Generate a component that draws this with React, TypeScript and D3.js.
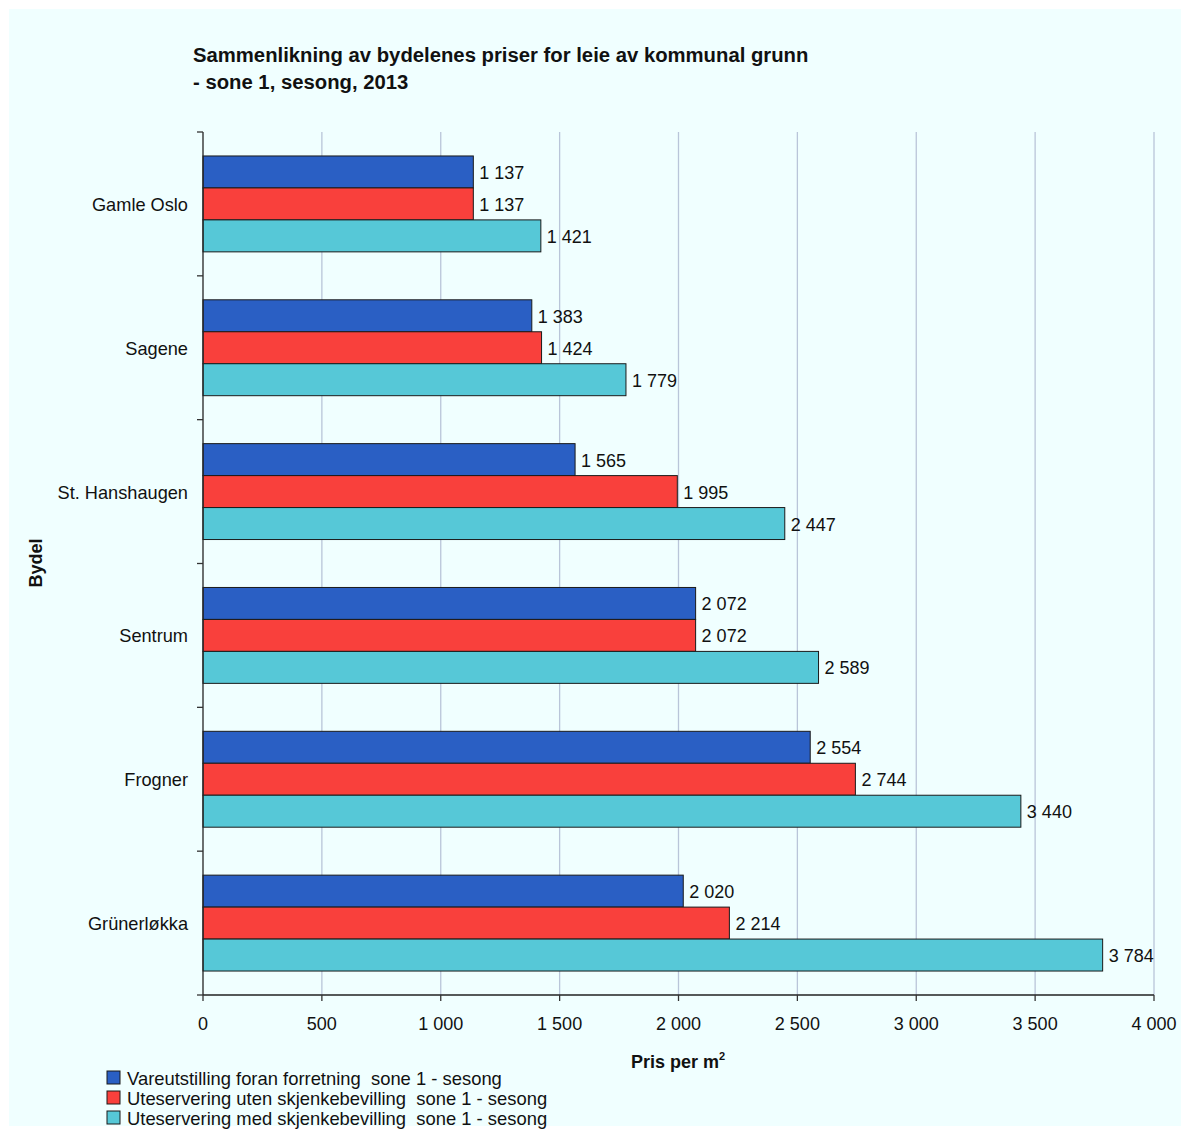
import React from "react";
import * as d3 from "d3";

const categories = ["Gamle Oslo", "Sagene", "St. Hanshaugen", "Sentrum", "Frogner", "Grünerløkka"];
const seriesNames = [
  "Vareutstilling foran forretning  sone 1 - sesong",
  "Uteservering uten skjenkebevilling  sone 1 - sesong",
  "Uteservering med skjenkebevilling  sone 1 - sesong",
];
const vareutstilling = [1137, 1383, 1565, 2072, 2554, 2020];
const utenSkjenke = [1137, 1424, 1995, 2072, 2744, 2214];
const medSkjenke = [1421, 1779, 2447, 2589, 3440, 3784];
const xTicks = [0, 500, 1000, 1500, 2000, 2500, 3000, 3500, 4000];
const colors = ["#2A5FC4", "#F9403C", "#56C8D7"];

const fmt = (v: number) => d3.format(",")(v).replace(/,/g, " ");

export default function App() {
  const W = 1190, H = 1133;
  const left = 203, right = 1154, top = 132, bottom = 995;
  const x = d3.scaleLinear().domain([0, 4000]).range([left, right]);
  const y0 = d3.scaleBand<string>().domain(categories).range([top, bottom]).padding(0);
  const y1 = d3.scaleBand<string>().domain(seriesNames).range([0, y0.bandwidth()]).paddingInner(0).paddingOuter(0.75);
  const series = [vareutstilling, utenSkjenke, medSkjenke];
  const font = "Liberation Sans, Arial, sans-serif";
  const boundaries = [top, ...categories.map((c) => (y0(c) as number) + y0.bandwidth())];

  return (
    <svg width={W} height={H} style={{ position: "absolute", left: 0, top: 0 }} fontFamily={font}>
      <rect x={0} y={0} width={W} height={H} fill="#ffffff" />
      <rect x={9} y={9} width={1172} height={1117} fill="#F0FFFF" />
      <text x={193} y={62} fontSize={20.3} fontWeight="bold" fill="#111">
        Sammenlikning av bydelenes priser for leie av kommunal grunn
      </text>
      <text x={193} y={89} fontSize={20.3} fontWeight="bold" fill="#111">
        - sone 1, sesong, 2013
      </text>
      {/* gridlines */}
      {xTicks.slice(1).map((t) => (
        <line key={t} x1={x(t)} x2={x(t)} y1={top} y2={bottom} stroke="#B9C5D9" strokeWidth={1.3} />
      ))}
      {/* bars */}
      {categories.map((c, i) =>
        series.map((s, j) => {
          const yy = (y0(c) as number) + (y1(seriesNames[j]) as number);
          const h = y1.bandwidth();
          return (
            <g key={c + j}>
              <rect x={x(0)} y={yy} width={x(s[i]) - x(0)} height={h} fill={colors[j]} stroke="#1a1a1a" strokeWidth={1} />
              <text x={x(s[i]) + 6} y={yy + h / 2 + 7} fontSize={18} fill="#111">
                {fmt(s[i])}
              </text>
            </g>
          );
        })
      )}
      {/* axes */}
      <line x1={left} x2={left} y1={top} y2={bottom} stroke="#222" strokeWidth={1.3} />
      <line x1={left} x2={right} y1={bottom} y2={bottom} stroke="#222" strokeWidth={1.3} />
      {boundaries.map((b, i) => (
        <line key={i} x1={left - 6} x2={left} y1={b} y2={b} stroke="#333" strokeWidth={1.3} />
      ))}
      {xTicks.map((t) => (
        <g key={t}>
          <line x1={x(t)} x2={x(t)} y1={bottom} y2={bottom + 6} stroke="#333" strokeWidth={1.3} />
          <text x={x(t)} y={1030} fontSize={18} textAnchor="middle" fill="#111">
            {fmt(t)}
          </text>
        </g>
      ))}
      {categories.map((c) => (
        <text key={c} x={188} y={(y0(c) as number) + y0.bandwidth() / 2 + 7} fontSize={18.2} textAnchor="end" fill="#111">
          {c}
        </text>
      ))}
      <text transform="translate(42,563) rotate(-90)" fontSize={18} fontWeight="bold" textAnchor="middle" fill="#111">
        Bydel
      </text>
      <text x={678} y={1068} fontSize={18} fontWeight="bold" textAnchor="middle" fill="#111">
        Pris per m<tspan dy={-8} fontSize={11}>2</tspan>
      </text>
      {seriesNames.map((n, j) => (
        <g key={n}>
          <rect x={107} y={1071 + j * 20} width={13} height={13} fill={colors[j]} stroke="#1a1a1a" strokeWidth={1} />
          <text x={127} y={1084.5 + j * 20} fontSize={18.4} fill="#111" style={{ whiteSpace: "pre" }}>
            {n}
          </text>
        </g>
      ))}
    </svg>
  );
}
